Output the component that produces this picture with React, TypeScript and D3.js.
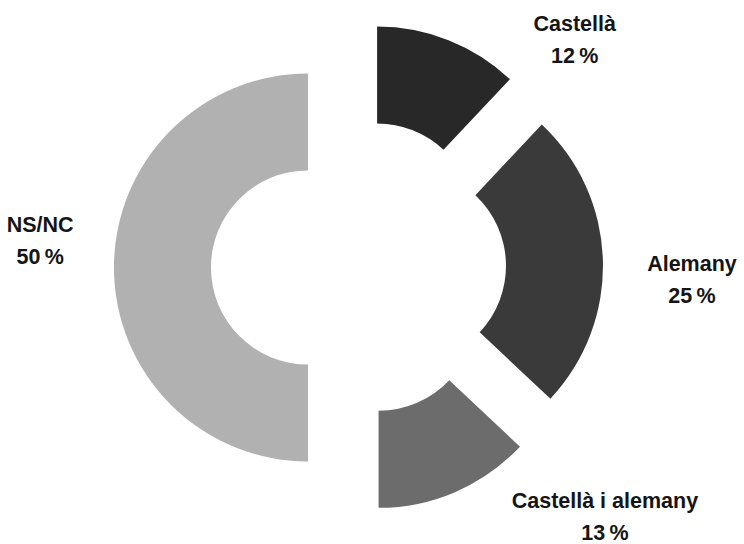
import { useEffect, useRef } from 'react';
import * as d3 from 'd3';

const WIDTH = 744;
const HEIGHT = 544;

// slices, clockwise from 12 o'clock
const labels = ['Castellà', 'Alemany', 'Castellà i alemany', 'NS/NC'];
const values = [12, 25, 13, 50];
const colors = ['#282828', '#3a3a3a', '#6c6c6c', '#b1b1b1'];

// label anchor in polar coords around the pie centre: [angle in degrees, distance]
const labelPolar: [number, number][] = [
  [44.4, 309],
  [93.3, 334],
  [136.2, 356],
  [273.5, 319],
];

const CENTER = { x: 358.5, y: 267.5 };
const INNER_R = 97;
const OUTER_R = 194;
const EXPLODE = 50.5;
const LINE_GAP = 32;

interface Slice {
  label: string;
  value: number;
  color: string;
}

export default function App() {
  const svgRef = useRef<SVGSVGElement>(null);

  useEffect(() => {
    const svg = svgRef.current;
    if (!svg) return;
    d3.select(svg).selectAll('*').remove();

    const data: Slice[] = labels.map((label, i) => ({ label, value: values[i], color: colors[i] }));

    const root = d3
      .select(svg)
      .append('g')
      .attr('transform', `translate(${CENTER.x},${CENTER.y})`);

    const pie = d3
      .pie<Slice>()
      .sort(null)
      .value((d) => d.value)
      .startAngle(0)
      .endAngle(2 * Math.PI);

    const arc = d3.arc<d3.PieArcDatum<Slice>>().innerRadius(INNER_R).outerRadius(OUTER_R);

    const arcs = pie(data);

    root
      .selectAll('path.slice')
      .data(arcs)
      .enter()
      .append('path')
      .attr('class', 'slice')
      .attr('d', arc)
      .attr('fill', (d) => d.data.color)
      .attr('transform', (d) => {
        const mid = (d.startAngle + d.endAngle) / 2;
        return `translate(${Math.sin(mid) * EXPLODE},${-Math.cos(mid) * EXPLODE})`;
      });

    const text = root
      .selectAll('text.label')
      .data(arcs)
      .enter()
      .append('text')
      .attr('class', 'label')
      .attr('text-anchor', 'middle')
      .attr('font-family', '"Liberation Sans", Arial, sans-serif')
      .attr('font-weight', 'bold')
      .attr('font-size', '21.5px')
      .attr('fill', '#151515')
      .attr('transform', (d, i) => {
        const [deg, dist] = labelPolar[i];
        const a = (deg * Math.PI) / 180;
        return `translate(${Math.sin(a) * dist},${-Math.cos(a) * dist})`;
      });

    text
      .append('tspan')
      .attr('x', 0)
      .attr('y', -LINE_GAP / 2)
      .text((d) => d.data.label);

    text
      .append('tspan')
      .attr('x', 0)
      .attr('y', LINE_GAP / 2)
      .text((d) => `${d.data.value}\u2009%`);
  }, []);

  return (
    <svg
      ref={svgRef}
      width={WIDTH}
      height={HEIGHT}
      style={{ position: 'absolute', left: 0, top: 0, background: '#fff' }}
    />
  );
}
